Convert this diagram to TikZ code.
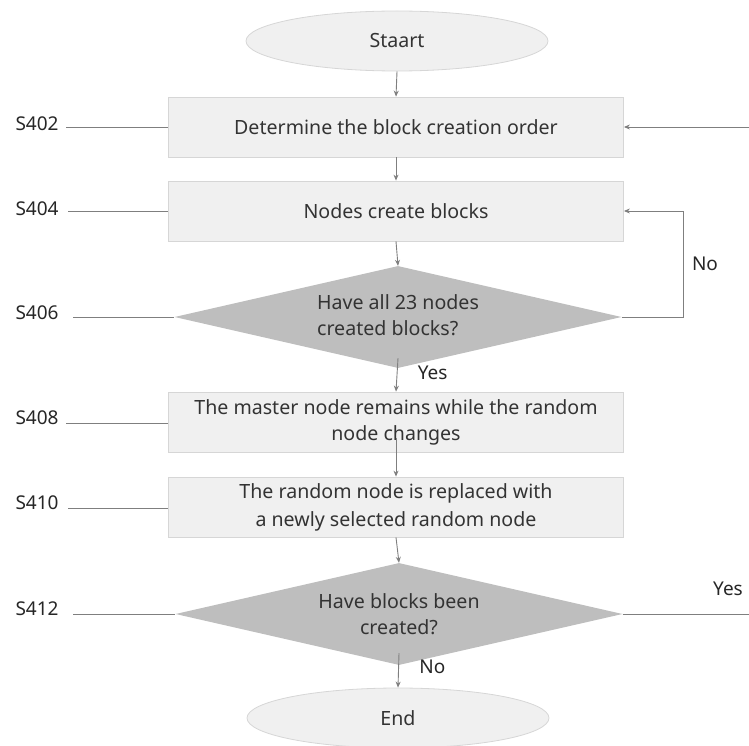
\documentclass[tikz,border=0pt]{standalone}
\usepackage{fontspec}
\setmainfont{Noto Sans}
\usetikzlibrary{shapes.geometric,arrows.meta}
\definecolor{boxfill}{HTML}{F0F0F0}
\definecolor{boxline}{HTML}{D6D6D6}
\definecolor{diafill}{HTML}{BEBEBE}
\definecolor{wire}{HTML}{7F7F7F}
\definecolor{ink}{HTML}{333333}
\tikzset{
  every node/.style={font=\fontsize{19.6}{26}\selectfont, text=ink},
  term/.style={ellipse, draw=boxline, fill=boxfill, line width=0.8pt,
    minimum width=302pt, minimum height=60pt, inner sep=0pt},
  stepbox/.style={rectangle, draw=boxline, fill=boxfill, line width=0.8pt,
    minimum width=455pt, minimum height=60pt, inner sep=0pt, align=center},
  decide/.style={diamond, fill=diafill, aspect=4.4, inner sep=0pt,
    minimum width=447pt, minimum height=102pt, align=center},
  flow/.style={draw=wire, line width=0.9pt, -{Stealth[length=6pt,width=5pt]}},
  lead/.style={draw=wire, line width=0.9pt},
  tag/.style={font=\fontsize{19}{22}\selectfont, text=black!85},
}
\begin{document}
\begin{tikzpicture}[x=1pt,y=-1pt]
\useasboundingbox (0,0) rectangle (749,746);

% main column
\node[term] (start) at (397,41) {Staart};
\node[stepbox] (b1) at (396,127) {Determine the block creation order};
\node[stepbox] (b2) at (396,211) {Nodes create blocks};
\node[decide] (d1) at (398,317) {\begin{tabular}{@{}l@{}}Have all 23 nodes\\created blocks?\end{tabular}};
\node[stepbox] (b3) at (396,422) {The master node remains while the random\\node changes};
\node[stepbox] (b4) at (396,507) {The random node is replaced with\\[2pt]a newly selected random node};
\node[decide] (d2) at (399,614) {Have blocks been\\created?};
\node[term] (end) at (398,718) {End};

% step labels and their leader lines
\node[tag, anchor=west] (s402) at (12,124) {S402};
\node[tag, anchor=west] (s404) at (12,209) {S404};
\node[tag, anchor=west] (s406) at (12,313) {S406};
\node[tag, anchor=west] (s408) at (12,418) {S408};
\node[tag, anchor=west] (s410) at (12,503) {S410};
\node[tag, anchor=west] (s412) at (12,609) {S412};
\coordinate (l402) at (66,127);
\coordinate (l404) at (68,211);
\coordinate (l406) at (73,317);
\coordinate (l408) at (66,423);
\coordinate (l410) at (68,508);
\coordinate (l412) at (73,614);
\draw[lead] (l402) -- (b1.west |- l402);
\draw[lead] (l404) -- (b2.west |- l404);
\draw[lead] (l406) -- (d1.west);
\draw[lead] (l408) -- (b3.west |- l408);
\draw[lead] (l410) -- (b4.west |- l410);
\draw[lead] (l412) -- (d2.west);

% downward flow
\draw[flow] (start.south) -- (b1.north);
\draw[flow] (b1.south) -- (b2.north);
\draw[flow] (b2.south) -- (d1.north);
\draw[flow] ([yshift=10pt]d1.south) -- (b3.north)
  node[tag, pos=0.45, right=17pt] (yes1) {Yes};
\draw[flow] ([yshift=14pt]b3.south) -- (b4.north);
\draw[flow] (b4.south) -- (d2.north);
\draw[flow] ([yshift=12pt]d2.south) -- (end.north)
  node[tag, pos=0.4, right=17pt] (no2) {No};

% entry from the right and the retry loop
\coordinate (in1) at (749,127);
\draw[flow] (in1) -- (b1.east |- in1);
\coordinate (loop) at (683,317);
\draw[flow] (d1.east) -- (loop) -- (loop |- b2.east) -- (b2.east);
\node[tag] (no1) at (705,264) {No};

% exit on success
\coordinate (out2) at (749,614);
\draw[lead] (d2.east) -- (out2);
\node[tag] (yes2) at (728,589) {Yes};
\end{tikzpicture}
\end{document}
